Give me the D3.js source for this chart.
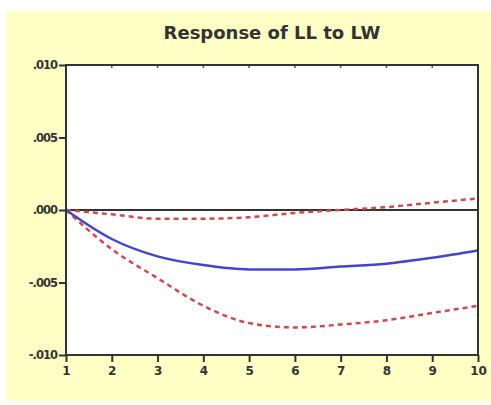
<!DOCTYPE html>
<html>
<head>
<meta charset="utf-8">
<script src="https://cdn.jsdelivr.net/npm/d3@7"></script>
<style>
  body { margin: 0; background: #fff; }
  svg { display: block; font-family: "DejaVu Sans", sans-serif; }
</style>
</head>
<body>
<svg id="chart"></svg>
<script>
// Impulse response values
const periods = [1, 2, 3, 4, 5, 6, 7, 8, 9, 10];
const response = [0, -0.0020, -0.0032, -0.0038, -0.0041, -0.0041, -0.0039, -0.0037, -0.0033, -0.0028];
const upperBand = [0, -0.0003, -0.0006, -0.0006, -0.0005, -0.0002, 0.0000, 0.0002, 0.0005, 0.0008];
const lowerBand = [0, -0.0027, -0.0047, -0.0066, -0.0078, -0.0081, -0.0079, -0.0076, -0.0071, -0.0066];
const yTicks = [0.010, 0.005, 0.000, -0.005, -0.010];
const yTickLabels = [".010", ".005", ".000", "-.005", "-.010"];

const width = 491, height = 405;
const margin = { top: 65, right: 13, bottom: 50, left: 66 };
const innerW = width - margin.left - margin.right;
const innerH = height - margin.top - margin.bottom;

const svg = d3.select("svg#chart")
  .attr("width", width)
  .attr("height", height);

// yellow panel
svg.append("rect")
  .attr("x", 6).attr("y", 11)
  .attr("width", width - 6).attr("height", 390)
  .attr("fill", "#ffffc6");

svg.append("text")
  .attr("x", 272).attr("y", 39)
  .attr("text-anchor", "middle")
  .attr("font-size", 18)
  .attr("font-weight", "bold")
  .attr("fill", "#333")
  .text("Response of LL to LW");

const g = svg.append("g")
  .attr("transform", `translate(${margin.left},${margin.top})`);

const x = d3.scaleLinear().domain([1, 10]).range([0, innerW]);
const y = d3.scaleLinear().domain([-0.010, 0.010]).range([innerH, 0]);

g.append("rect")
  .attr("width", innerW).attr("height", innerH)
  .attr("fill", "#fff");

// axes
const xAxis = g.append("g")
  .attr("transform", `translate(0,${innerH})`)
  .call(d3.axisBottom(x).tickValues(periods).tickFormat(d3.format("d")).tickSize(7).tickSizeOuter(0));
const yAxis = g.append("g")
  .call(d3.axisLeft(y).tickValues(yTicks).tickFormat((d, i) => yTickLabels[i]).tickSize(7).tickSizeOuter(0));

[xAxis, yAxis].forEach(a => {
  a.select(".domain").remove();
  a.selectAll("line").attr("stroke", "#333").attr("stroke-width", 2);
  a.selectAll("text").attr("fill", "#333").attr("font-weight", "bold").attr("font-family", "DejaVu Sans, sans-serif");
});
xAxis.selectAll("text").attr("font-size", 12).attr("y", 11).attr("dy", "0.71em");
yAxis.selectAll("text").attr("font-size", 11.5).attr("x", -9).attr("letter-spacing", -1);

// small ticks along the top border
g.append("g").selectAll("line")
  .data(periods.slice(1, -1))
  .join("line")
  .attr("x1", d => x(d)).attr("x2", d => x(d))
  .attr("y1", 0).attr("y2", 3)
  .attr("stroke", "#555").attr("stroke-width", 1.5);

// zero line
g.append("line")
  .attr("x1", 0).attr("x2", innerW)
  .attr("y1", y(0)).attr("y2", y(0))
  .attr("stroke", "#333").attr("stroke-width", 2);

const line = d3.line()
  .x((d, i) => x(periods[i]))
  .y(d => y(d))
  .curve(d3.curveMonotoneX);

[upperBand, lowerBand].forEach(band => {
  g.append("path")
    .datum(band)
    .attr("d", line)
    .attr("fill", "none")
    .attr("stroke", "#cc4b52")
    .attr("stroke-width", 2.5)
    .attr("stroke-dasharray", "5,4");
});

g.append("path")
  .datum(response)
  .attr("d", line)
  .attr("fill", "none")
  .attr("stroke", "#4545cc")
  .attr("stroke-width", 2.5);

// frame
g.append("rect")
  .attr("width", innerW).attr("height", innerH)
  .attr("fill", "none")
  .attr("stroke", "#333")
  .attr("stroke-width", 2);
</script>
</body>
</html>
